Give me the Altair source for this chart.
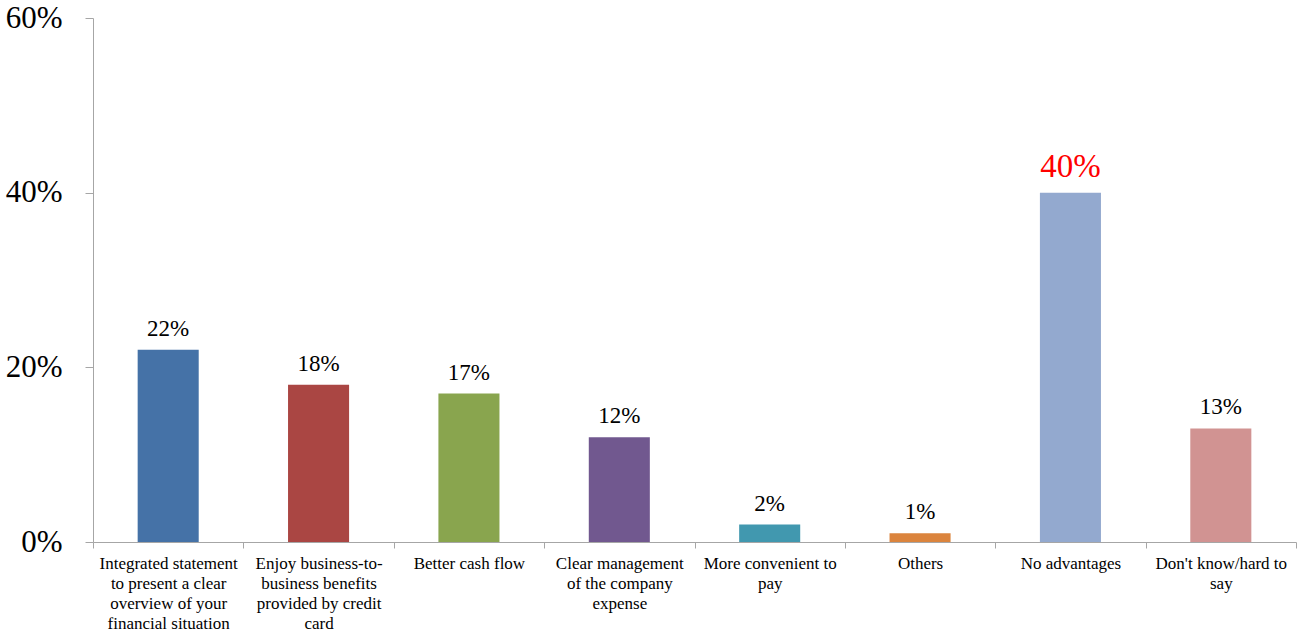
import altair as alt
import pandas as pd

categories = [
    "Integrated statement\nto present a clear\noverview of your\nfinancial situation",
    "Enjoy business-to-\nbusiness benefits\nprovided by credit\ncard",
    "Better cash flow",
    "Clear management\nof the company\nexpense",
    "More convenient to\npay",
    "Others",
    "No advantages",
    "Don't know/hard to\nsay",
]
values = [0.22, 0.18, 0.17, 0.12, 0.02, 0.01, 0.40, 0.13]
bar_colors = ["#4572A7", "#AA4643", "#89A54E", "#71588F", "#4198AF", "#DB843D", "#93A9CF", "#D19392"]
highlight = "No advantages"
y_ticks = [0, 0.2, 0.4, 0.6]

df = pd.DataFrame({"cat": categories, "val": values})

FONT = "Liberation Serif, Times New Roman, serif"
AXIS_GRAY = "#A6A6A6"

x = alt.X(
    "cat:N",
    sort=categories,
    scale=alt.Scale(paddingInner=0, paddingOuter=0),
    axis=alt.Axis(
        title=None,
        labelAngle=0,
        tickBand="extent",
        labelExpr="split(datum.label, '\\n')",
        labelFont=FONT,
        labelFontSize=17,
        labelLineHeight=20,
        labelColor="black",
        labelPadding=7,
        labelOverlap=False,
        labelLimit=300,
        domainColor=AXIS_GRAY,
        tickColor=AXIS_GRAY,
        tickSize=6,
        grid=False,
    ),
)
y = alt.Y(
    "val:Q",
    scale=alt.Scale(domain=[0, 0.6], nice=False),
    axis=alt.Axis(
        title=None,
        values=y_ticks,
        format=".0%",
        grid=False,
        labelFont=FONT,
        labelFontSize=31,
        labelColor="black",
        labelPadding=23,
        tickSize=8,
        domainColor=AXIS_GRAY,
        tickColor=AXIS_GRAY,
    ),
)

base = alt.Chart(df)

bars = base.mark_bar(width=alt.RelativeBandSize(0.406)).encode(
    x=x,
    y=y,
    color=alt.Color("cat:N", scale=alt.Scale(domain=categories, range=bar_colors), legend=None),
)

labels = base.transform_filter(alt.datum.cat != highlight).mark_text(
    font=FONT, fontSize=23, color="black", baseline="alphabetic", dy=-14
).encode(x=alt.X("cat:N", sort=categories), y="val:Q", text=alt.Text("val:Q", format=".0%"))

label_hi = base.transform_filter(alt.datum.cat == highlight).mark_text(
    font=FONT, fontSize=33, color="#FF0000", baseline="alphabetic", dy=-16
).encode(x=alt.X("cat:N", sort=categories), y="val:Q", text=alt.Text("val:Q", format=".0%"))

chart = (
    alt.layer(bars, labels, label_hi)
    .properties(
        width=1203,
        height=524,
        padding={"left": 93, "top": 18, "right": 6, "bottom": 91},
        autosize=alt.AutoSizeParams(type="none"),
        background="white",
    )
    .configure_view(stroke=None)
)

chart.save("out.html", embed_options={"renderer": "svg", "actions": False})
